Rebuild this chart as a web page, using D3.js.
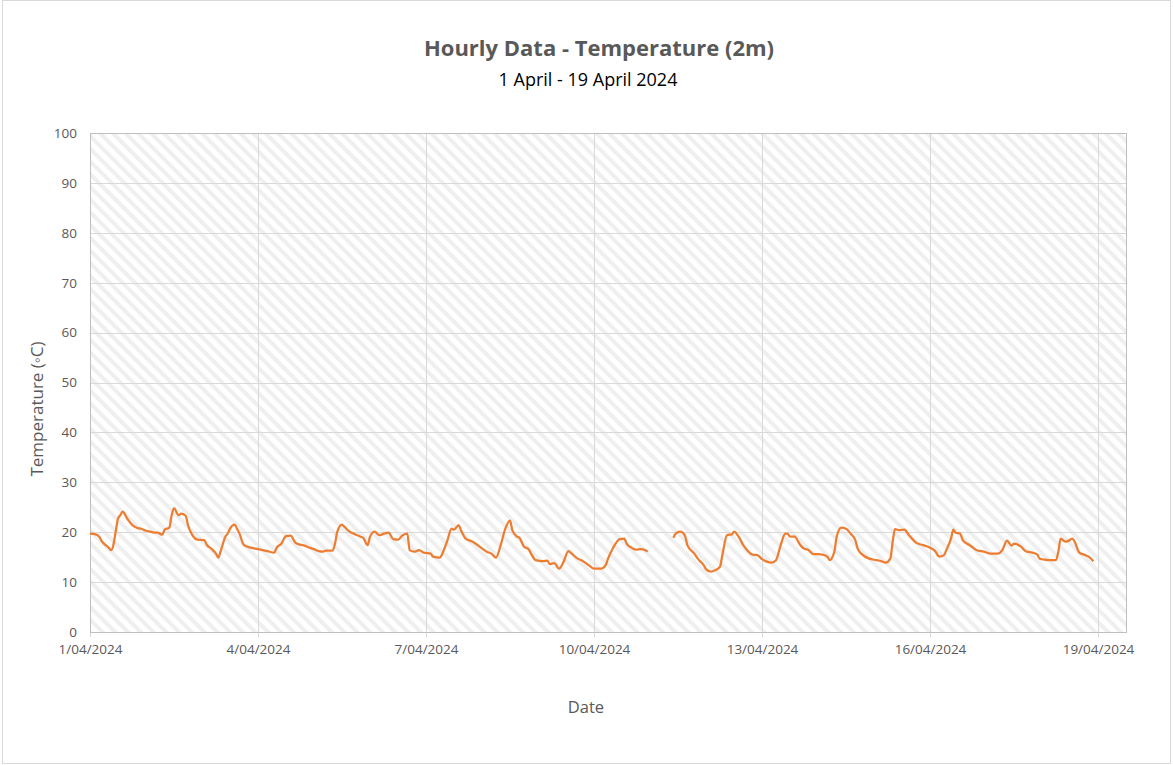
<!DOCTYPE html>
<meta charset="utf-8">
<style>
    body { margin: 0; background: #fff; }
    text { font-family: "Open Sans", "Noto Sans", sans-serif; }
    .axis text { fill: #595959; }
    .axis path, .axis line { stroke: none; }
    .grid line { stroke: #d9d9d9; stroke-width: 1; }
</style>
<body>
<div id="chart"></div>
<script src="https://cdn.jsdelivr.net/npm/d3@7"></script>
<script>
    // hours since 1 April 2024 00:00, null = missing reading
    var hours = [0, 2, 4, 5, 6, 8, 9, 10, 11, 12, 13, 14, 16, 18, 20, 22, 24, 26, 28, 29, 31, 32, 34, 35, 36, 38, 39, 41, 42, 44, 46, 49, 50, 52, 54, 55, 56, 58, 59, 60, 62, 63, 64, 66, 69, 71, 73, 76, 79, 80, 82, 84, 86, 88, 90, 92, 94, 96, 98, 100, 101, 104, 105, 106, 108, 109, 111, 114, 116, 117, 119, 120, 122, 124, 126, 128, 130, 132, 134, 136, 137, 139, 141, 143, 146, 147, 150, 151, 153, 155, 156, 158, 159, 161, 164, 167, 170, 172, 174, 176, 178, 180, 181, 183, 184, 186, 188, 189, 191, 194, 196, 197, 199, 201, 203, 205, 206, 209, 211, 214, 216, 219, 221, 222, 224, 225, 227, 229, 230, 232, 234, 236, 238, 239,
        240, 250, 251, 253, 255, 256, 259, 261, 263, 264, 266, 268, 270, 271, 273, 274, 275, 276, 278, 280, 282, 284, 286, 288, 290, 292, 294, 296, 298, 299, 300, 302, 304, 306, 308, 310, 312, 314, 316, 317, 319, 320, 322, 324, 326, 328, 329, 331, 334, 337, 339, 341, 343, 344, 345, 347, 349, 351, 354, 357, 360, 362, 364, 366, 367, 369, 370, 371, 373, 374, 377, 380, 383, 386, 389, 391, 393, 395, 396, 399, 401, 404, 406, 407, 409, 411, 414, 415, 416, 418, 419, 421, 422, 424, 426, 428, 430];
    var temps = [19.7, 19.6, 19.1, 18.2, 17.7, 16.9, 16.4, 17.4, 20.1, 22.7, 23.4, 24.1, 22.7, 21.5, 20.9, 20.7, 20.3, 20.1, 19.9, 19.9, 19.5, 20.5, 20.9, 23.4, 24.8, 23.4, 23.7, 23.3, 21.4, 19.3, 18.5, 18.4, 17.5, 16.7, 15.7, 14.9, 16.2, 19.1, 19.7, 20.7, 21.5, 20.7, 19.8, 17.4, 16.9, 16.7, 16.5, 16.2, 15.9, 16.9, 17.7, 19.2, 19.3, 17.9, 17.5, 17.3, 16.9, 16.6, 16.2, 16.1, 16.3, 16.3, 17.7, 20.1, 21.5, 21.1, 20.2, 19.5, 19.1, 18.9, 17.4, 19.1, 20.1, 19.4, 19.7, 19.9, 18.6, 18.5, 19.4, 19.7, 16.4, 16.1, 16.4, 15.9, 15.7, 15.1, 14.9, 15.7, 18.1, 20.7, 20.5, 21.4, 20.4, 18.7, 18.1, 17.1, 16.1, 15.7, 14.9, 17.4, 20.7, 22.3, 20.4, 19.1, 18.9, 17.1, 16.6, 15.7, 14.4, 14.2, 14.3, 13.6, 13.8, 12.7, 14.1, 16.2, 15.9, 14.7, 14.3, 13.3, 12.7, 12.7, 13.4, 14.7, 16.7, 17.5, 18.6, 18.7, 17.7, 16.9, 16.5, 16.6, 16.4, 16.1,
        null, 18.9, 19.7, 20.1, 19.3, 17.4, 15.7, 14.4, 13.4, 12.6, 12.1, 12.4, 13.1, 15.4, 19.4, 19.5, 19.5, 20.1, 19.1, 17.4, 16.2, 15.5, 15.4, 14.6, 14.1, 13.9, 14.4, 17.4, 19.7, 19.7, 19.1, 19.1, 17.7, 16.7, 16.4, 15.6, 15.6, 15.5, 15.1, 14.4, 16.1, 19.1, 20.9, 20.7, 19.7, 18.4, 16.7, 15.5, 14.7, 14.4, 14.2, 13.9, 14.7, 18.1, 20.6, 20.4, 20.5, 19.4, 17.9, 17.4, 16.9, 16.3, 15.1, 15.4, 16.4, 18.7, 20.5, 19.9, 19.7, 18.4, 17.4, 16.4, 16.1, 15.7, 15.7, 16.4, 18.3, 17.3, 17.7, 17.1, 16.2, 15.9, 15.5, 14.7, 14.5, 14.4, 14.4, 16.1, 18.7, 18.1, 18.2, 18.7, 18.1, 15.9, 15.5, 15.1, 14.2];
    var yTicks = [0, 10, 20, 30, 40, 50, 60, 70, 80, 90, 100];
    var xTickDays = [1, 4, 7, 10, 13, 16, 19];

    var W = 1173, H = 765;
    var margin = { top: 133, right: 47, bottom: 133, left: 90 },
        width = W - margin.left - margin.right,
        height = H - margin.top - margin.bottom;

    var start = new Date(Date.UTC(2024, 3, 1));
    var data = hours.map(function (h, i) {
        return { date: d3.utcHour.offset(start, h), value: temps[i] };
    });

    var svg = d3.select("#chart").append("svg")
        .attr("width", W)
        .attr("height", H);

    svg.append("rect")
        .attr("x", 2.5).attr("y", 0.5)
        .attr("width", W - 5).attr("height", H - 2)
        .attr("fill", "#fff")
        .attr("stroke", "#d9d9d9");

    var pat = svg.append("defs").append("pattern")
        .attr("id", "hatch")
        .attr("patternUnits", "userSpaceOnUse")
        .attr("width", 9).attr("height", 9)
        .attr("patternTransform", "rotate(45)");
    pat.append("rect").attr("width", 9).attr("height", 9).attr("fill", "#fff");
    pat.append("rect").attr("width", 9).attr("height", 4).attr("fill", "#efefef");

    var g = svg.append("g")
        .attr("transform", "translate(" + margin.left + "," + margin.top + ")");

    var x = d3.scaleUtc()
        .domain([start, d3.utcHour.offset(start, 18 * 24 + 12)])
        .range([0, width]);

    var y = d3.scaleLinear()
        .domain([0, 100])
        .range([height, 0]);

    g.append("rect")
        .attr("width", width)
        .attr("height", height)
        .attr("fill", "url(#hatch)");

    var xTicks = xTickDays.map(function (d) { return new Date(Date.UTC(2024, 3, d)); });

    g.append("g")
        .attr("class", "grid")
        .selectAll("line.h")
        .data(yTicks)
        .enter().append("line")
        .attr("x1", 0).attr("x2", width)
        .attr("y1", function (d) { return Math.round(y(d)) + 0.5; })
        .attr("y2", function (d) { return Math.round(y(d)) + 0.5; });

    g.append("g")
        .attr("class", "grid")
        .selectAll("line.v")
        .data(xTicks)
        .enter().append("line")
        .attr("y1", 0).attr("y2", height + 5)
        .attr("x1", function (d) { return Math.round(x(d)) + 0.5; })
        .attr("x2", function (d) { return Math.round(x(d)) + 0.5; });

    g.append("rect")
        .attr("x", 0.5).attr("y", 0.5)
        .attr("width", width).attr("height", height)
        .attr("fill", "none")
        .attr("stroke", "#bfbfbf");

    var line = d3.line()
        .defined(function (d) { return d.value != null; })
        .x(function (d) { return x(d.date); })
        .y(function (d) { return y(d.value); })
        .curve(d3.curveMonotoneX);

    g.append("path")
        .datum(data)
        .attr("fill", "none")
        .attr("stroke", "#ed7d31")
        .attr("stroke-width", 2.25)
        .attr("stroke-linejoin", "round")
        .attr("d", line);

    g.append("g")
        .attr("class", "axis")
        .style("font-size", "13.5px")
        .call(d3.axisLeft(y).tickValues(yTicks).tickSize(0).tickPadding(13));

    g.append("g")
        .attr("class", "axis")
        .style("font-size", "13.5px")
        .attr("transform", "translate(0," + height + ")")
        .call(d3.axisBottom(x).tickValues(xTicks).tickSize(0).tickPadding(12)
            .tickFormat(d3.utcFormat("%-d/%m/%Y")));

    svg.append("text")
        .attr("x", 599).attr("y", 56)
        .attr("text-anchor", "middle")
        .style("font-size", "22px")
        .style("font-weight", "bold")
        .style("fill", "#595959")
        .text("Hourly Data - Temperature (2m)");

    svg.append("text")
        .attr("x", 588).attr("y", 86)
        .attr("text-anchor", "middle")
        .style("font-size", "18px")
        .style("fill", "#000")
        .text("1 April - 19 April 2024");

    svg.append("text")
        .attr("transform", "translate(43,409) rotate(-90)")
        .attr("text-anchor", "middle")
        .style("font-size", "17px")
        .style("fill", "#595959")
        .text("Temperature (\u25E6C)");

    svg.append("text")
        .attr("x", 586).attr("y", 713)
        .attr("text-anchor", "middle")
        .style("font-size", "16.5px")
        .style("fill", "#595959")
        .text("Date");
</script>
</body>
